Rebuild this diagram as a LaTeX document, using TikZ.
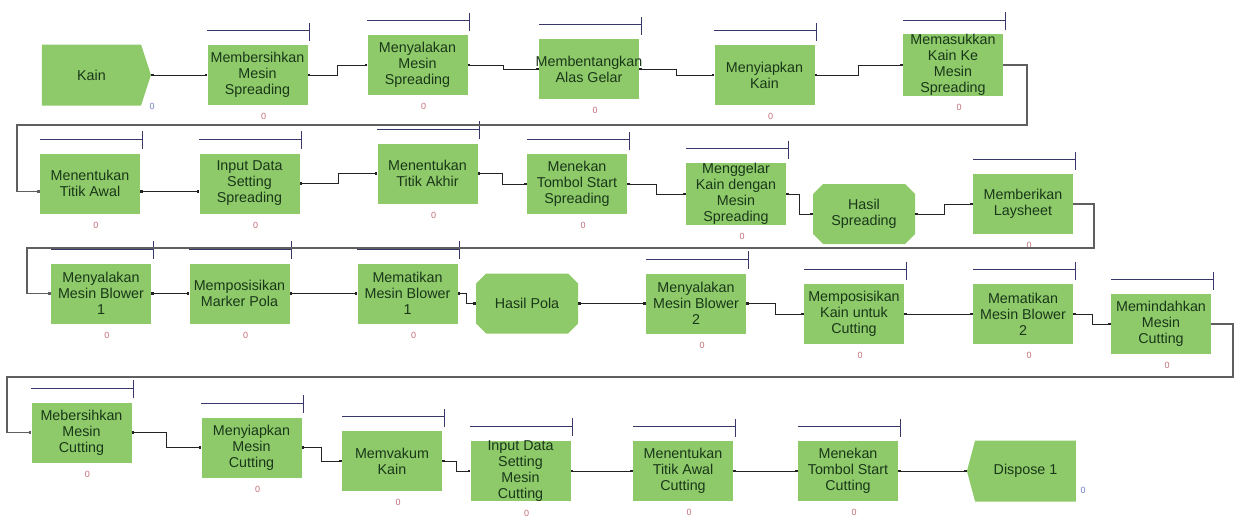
\documentclass[tikz,border=0pt]{standalone}
\usepackage{fontspec}
\setmainfont{Liberation Sans}
\usepackage{tikz}
\usetikzlibrary{arrows.meta, calc, shapes.symbols}
\definecolor{boxgreen}{RGB}{143,202,106}
\definecolor{boxtext}{RGB}{25,55,25}
\definecolor{barnavy}{RGB}{55,55,105}
\definecolor{linkgray}{RGB}{35,35,35}
\definecolor{backgray}{RGB}{95,95,95}
\definecolor{zerored}{RGB}{195,110,120}
\definecolor{zeroblue}{RGB}{110,125,190}

\begin{document}
\begin{tikzpicture}[
      x=1pt, y=-1pt,
      zero/.style={font=\fontsize{9}{9}\selectfont, text=zerored, inner sep=0pt,
                   xshift=6pt, yshift=-8pt},
      zeroend/.style={font=\fontsize{9}{9}\selectfont, text=zeroblue, inner sep=0pt},
      proc/.style={fill=boxgreen, minimum width=100pt, minimum height=60pt,
                   inner sep=0pt, align=center, text=boxtext,
                   font=\fontsize{14.3}{16}\selectfont, label={[zero]below:0}},
      endpt/.style={signal, fill=boxgreen, minimum width=109pt, minimum height=61pt,
                    inner sep=0pt, text=boxtext, font=\fontsize{14.3}{16}\selectfont},
      % octagon: rectangle with cut corners
      result/.style={minimum width=102pt, minimum height=60pt, inner sep=0pt,
                     align=center, text=boxtext, font=\fontsize{14.3}{16}\selectfont,
                     path picture={
                       \fill[boxgreen]
                         ([xshift=10pt]path picture bounding box.north west)
                         -- ([xshift=-10pt]path picture bounding box.north east)
                         -- ([yshift=-10pt]path picture bounding box.north east)
                         -- ([yshift=10pt]path picture bounding box.south east)
                         -- ([xshift=-10pt]path picture bounding box.south east)
                         -- ([xshift=10pt]path picture bounding box.south west)
                         -- ([yshift=10pt]path picture bounding box.south west)
                         -- ([yshift=-10pt]path picture bounding box.north west)
                         -- cycle;}},
      qbar/.style={draw=barnavy, line width=1.2pt},
      link/.style={draw=linkgray, line width=0.9pt,
                   {Square[length=2.6pt,width=2.6pt]}-{Square[length=2.6pt,width=2.6pt]}},
      backlink/.style={link, draw=backgray, line width=1.3pt},
      elbow/.style={to path={-| ($(\tikztostart)!.5!(\tikztotarget)$) |- (\tikztotarget)}}
  ]
    \useasboundingbox (0,0) rectangle (1236,517);

    % spreading
    \node[endpt, signal to=east, signal pointer angle=144] (kain) at (91.5,75) {Kain};
    \node[proc] (mbs)  at (257.5,75) {Membersihkan\\Mesin\\Spreading};
    \node[proc] (mnys) at (417.5,65) {Menyalakan\\Mesin\\Spreading};
    \node[proc] (mbag) at (589,69)   {\makebox[90pt]{Membentangkan}\\Alas Gelar};
    \node[proc] (mnyk) at (764.5,75) {Menyiapkan\\Kain};
    \node[proc] (mkms) at (953,65)   {Memasukkan\\Kain Ke\\Mesin\\Spreading};

    \node[proc]   (mtta) at (90,183.5)   {Menentukan\\Titik Awal};
    \node[proc]   (idss) at (249.5,183.5) {Input Data\\Setting\\Spreading};
    \node[proc]   (mttk) at (427.5,173.5) {Menentukan\\Titik Akhir};
    \node[proc]   (mtss) at (577,184)     {Menekan\\Tombol Start\\Spreading};
    \node[proc, minimum height=62pt] (mkdm) at (736,194) {Menggelar\\Kain dengan\\Mesin\\Spreading};
    \node[result] (hsp)  at (864,214)     {Hasil\\Spreading};
    \node[proc]   (mls)  at (1023,204)    {Memberikan\\Laysheet};

    % pola
    \node[proc]   (mmb1) at (101,293.5)   {Menyalakan\\Mesin Blower\\1};
    \node[proc]   (mmp)  at (239.5,293.5) {Memposisikan\\Marker Pola};
    \node[proc]   (mtb1) at (407.5,293.5) {Mematikan\\Mesin Blower\\1};
    \node[result] (hpl)  at (527,303.5)   {Hasil Pola};
    \node[proc]   (mmb2) at (696,303.5)   {Menyalakan\\Mesin Blower\\2};
    \node[proc]   (mkuc) at (854,314)     {Memposisikan\\Kain untuk\\Cutting};
    \node[proc]   (mtb2) at (1023,314)    {Mematikan\\Mesin Blower\\2};
    \node[proc]   (mmc)  at (1161,324)    {Memindahkan\\Mesin\\Cutting};

    % cutting
    \node[proc] (mbmc) at (81.5,432.5)  {Mebersihkan\\Mesin\\Cutting};
    \node[proc] (mymc) at (251.5,447.5) {Menyiapkan\\Mesin\\Cutting};
    \node[proc] (mvk)  at (392,461)     {Memvakum\\Kain};
    \node[proc] (idsc) at (520.5,471)   {Input Data\\Setting\\Mesin\\Cutting};
    \node[proc] (mtac) at (683,471)     {Menentukan\\Titik Awal\\Cutting};
    \node[proc] (mtsc) at (848,471)     {Menekan\\Tombol Start\\Cutting};
    \node[endpt, signal to=west, signal pointer angle=150] (disp) at (1025.5,471) {Dispose 1};

    \node[zeroend] (kainzero) at ($(kain.east)+(1,31)$) {0};
    \node[zeroend] (dispzero) at ($(disp.east)+(7,19)$) {0};

    % queue bars
    \foreach \n in {mbs,mnys,mbag,mnyk,mkms,mtta,idss,mttk,mtss,mkdm,mls,
                    mmb1,mmp,mtb1,mmb2,mkuc,mtb2,mmc,mbmc,mymc,mvk,idsc,mtac,mtsc} {
      \draw[qbar] ([yshift=14pt]\n.north west) -- ([xshift=2pt,yshift=14pt]\n.north east);
      \draw[qbar] ([xshift=2pt,yshift=22pt]\n.north east) -- ([xshift=2pt,yshift=4pt]\n.north east);
    }

    \coordinate (r1) at (1027,125);
    \coordinate (l1) at (17,125);
    \coordinate (r2) at (1094,248);
    \coordinate (l2) at (27,248);
    \coordinate (r3) at (1233,377);
    \coordinate (l3) at (7,377);

    \draw[link] (kain.east) -- (mbs.west);
    \draw[link] (mbs.east)  to[elbow] (mnys.west);
    \draw[link] (mnys.east) to[elbow] (mbag.west);
    \draw[link] (mbag.east) to[elbow] (mnyk.west);
    \draw[link] (mnyk.east) to[elbow] (mkms.west);
    \draw[backlink] (mkms.east) -| (r1) -- (l1) |- ([yshift=-8pt]mtta.west);

    \draw[link] ([yshift=-8pt]mtta.east) -- ([yshift=-8pt]idss.west);
    \draw[link] (idss.east) to[elbow] (mttk.west);
    \draw[link] (mttk.east) to[elbow] (mtss.west);
    \draw[link] (mtss.east) to[elbow] (mkdm.west);
    \draw[link] (mkdm.east) to[elbow] (hsp.west);
    \draw[link] (hsp.east)  to[elbow] (mls.west);
    \draw[backlink] (mls.east) -| (r2) -- (l2) |- (mmb1.west);

    \draw[link] (mmb1.east) -- (mmp.west);
    \draw[link] (mmp.east)  -- (mtb1.west);
    \draw[link] (mtb1.east) to[elbow] (hpl.west);
    \draw[link] (hpl.east)  -- (mmb2.west);
    \draw[link] (mmb2.east) to[elbow] (mkuc.west);
    \draw[link] (mkuc.east) -- (mtb2.west);
    \draw[link] (mtb2.east) to[elbow] (mmc.west);
    \draw[backlink] (mmc.east) -| (r3) -- (l3) |- (mbmc.west);

    \draw[link] (mbmc.east) to[elbow] (mymc.west);
    \draw[link] (mymc.east) to[elbow] (mvk.west);
    \draw[link] (mvk.east)  to[elbow] (idsc.west);
    \draw[link] (idsc.east) -- (mtac.west);
    \draw[link] (mtac.east) -- (mtsc.west);
    \draw[link] (mtsc.east) -- (disp.west);
  \end{tikzpicture}
\end{document}
